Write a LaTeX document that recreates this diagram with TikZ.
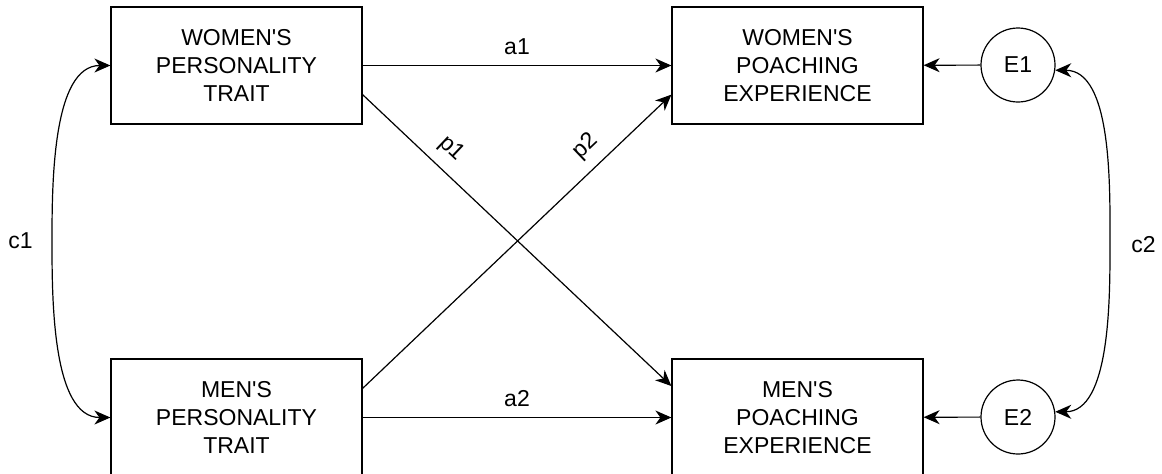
\documentclass[tikz,border=0pt]{standalone}
\usepackage{fontspec}
\setmainfont{Liberation Sans}
\usetikzlibrary{positioning, arrows.meta}

\tikzset{
	trait/.style={draw, rectangle, line width=0.6pt, minimum width=125.5pt, minimum height=58.5pt, align=center, inner sep=0pt},
	err/.style={draw, circle, line width=0.6pt, minimum size=37pt, inner sep=0pt},
	path/.style={-{Stealth[length=8pt, width=7pt, inset=2.5pt]}, line width=0.6pt},
	cov/.style={{Stealth[length=8pt, width=7pt, inset=2.5pt]}-{Stealth[length=8pt, width=7pt, inset=2.5pt]}, line width=0.6pt}
}

\begin{document}
\begin{tikzpicture}[x=0.5pt, y=-0.5pt, font=\fontsize{11.5}{14}\selectfont]
	\useasboundingbox (0, 0) rectangle (1162, 473);

	\node[trait] (wpt) at (236.5, 65.5) {WOMEN\textquotesingle S\\PERSONALITY\\TRAIT};
	\node[trait] (mpt) at (236.5, 417.5) {MEN\textquotesingle S\\PERSONALITY\\TRAIT};
	\node[trait] (wpe) at (797.5, 65.5) {WOMEN\textquotesingle S\\POACHING\\EXPERIENCE};
	\node[trait] (mpe) at (797.5, 417.5) {MEN\textquotesingle S\\POACHING\\EXPERIENCE};

	\node[err] (e1) at (1018, 65) {E1};
	\node[err] (e2) at (1018, 417) {E2};

	\coordinate (c1mid) at (52, 241);
	\coordinate (c2mid) at (1110, 245);

	\draw[path] (wpt) -- node[above=2pt] {a1} (wpe);
	\draw[path] (mpt) -- node[above=2pt] {a2} (mpe);

	\draw[path] (wpt.-13.7) -- node[pos=0.24, sloped, above=2pt] {p1} (mpe.166.3);
	\draw[path] (mpt.13.7) -- node[pos=0.77, sloped, above=2pt] {p2} (wpe.193.7);

	\draw[path] (e1) -- (wpe);
	\draw[path] (e2) -- (mpe);

	\draw[cov] (wpt.west) to[out=180, in=90, looseness=0.8] (c1mid) node[left=6pt] {c1} to[out=-90, in=180, looseness=0.8] (mpt.west);
	\draw[cov] (e1.-8) to[out=0, in=90, looseness=0.8] (c2mid) node[right=7pt] {c2} to[out=-90, in=0, looseness=0.8] (e2.8);

\end{tikzpicture}
\end{document}
